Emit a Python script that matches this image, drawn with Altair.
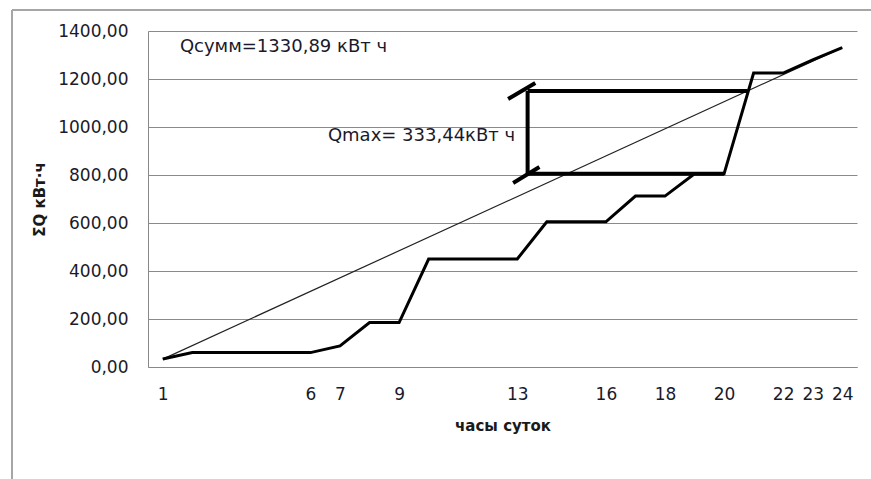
import altair as alt
import pandas as pd

# ---- data ----
hours = list(range(1, 25))
cum_q = [33, 60, 60, 60, 60, 60, 88, 185, 185, 450, 450, 450, 450,
         605, 605, 605, 712, 712, 805, 805, 1225, 1225, 1280, 1330.89]
avg_hours = [1, 24]
avg_q = [33, 1330.89]
tick_hours = [1, 6, 7, 9, 13, 16, 18, 20, 22, 23, 24]
y_ticks = [0, 200, 400, 600, 800, 1000, 1200, 1400]

# bracket (Qmax) segments: x1, y1, x2, y2
br_x1 = [13.35, 13.35, 13.35, 12.69, 12.86]
br_y1 = [1150, 805, 805, 1117, 767]
br_x2 = [20.8, 20.0, 13.35, 13.61, 13.75]
br_y2 = [1150, 805, 1150, 1183, 833]

notes = ["Qсумм=1330,89 кВт ч", "Qmax= 333,44кВт ч"]
note_x = [1.58, 6.59]
note_y = [1333, 962]

FONT = "DejaVu Sans"
W, H = 709, 336
PAD_L, PAD_T = 148, 31

df = pd.DataFrame({"h": hours, "q": cum_q})
df_avg = pd.DataFrame({"h": avg_hours, "q": avg_q})
df_br = pd.DataFrame({"x1": br_x1, "y1": br_y1, "x2": br_x2, "y2": br_y2})
df_notes = pd.DataFrame({"t": notes, "x": note_x, "y": note_y})

xs = alt.Scale(domain=[0.5, 24.5], nice=False, zero=False)
ys = alt.Scale(domain=[0, 1400], nice=False)

x_axis = alt.Axis(values=tick_hours, title="часы суток", grid=False, ticks=False,
                  domain=True, domainColor="#888888", labelFont=FONT, labelFontSize=17,
                  labelColor="#1a1a2a", labelPadding=19, titleFont=FONT, titleFontSize=15,
                  titleFontWeight="bold", titleColor="#1a1a1a", titlePadding=16)
y_axis = alt.Axis(values=y_ticks, title="ΣQ кВт·ч", grid=True, gridColor="#8a8a8a",
                  ticks=False, domain=True, domainColor="#888888", labelFont=FONT,
                  labelFontSize=17, labelColor="#1a1a2a", labelPadding=20,
                  labelExpr="replace(format(datum.value, '.2f'), '.', ',')",
                  titleFont=FONT, titleFontSize=15, titleFontWeight="bold",
                  titleColor="#1a1a1a", titlePadding=10)

base_line = alt.Chart(df).mark_line(color="black", strokeWidth=3, strokeJoin="miter").encode(
    x=alt.X("h:Q", scale=xs, axis=x_axis),
    y=alt.Y("q:Q", scale=ys, axis=y_axis),
)

avg_line = alt.Chart(df_avg).mark_line(color="#222222", strokeWidth=1.2).encode(
    x=alt.X("h:Q", scale=xs), y=alt.Y("q:Q", scale=ys))

bracket = alt.Chart(df_br).mark_rule(color="black", strokeWidth=4).encode(
    x=alt.X("x1:Q", scale=xs), y=alt.Y("y1:Q", scale=ys),
    x2="x2:Q", y2="y2:Q")

texts = alt.Chart(df_notes).mark_text(font=FONT, fontSize=18, align="left",
                                      baseline="middle", color="#1a1a2a").encode(
    x=alt.X("x:Q", scale=xs), y=alt.Y("y:Q", scale=ys), text="t:N")

# outer chart frame (left and top edges visible in reference)
frame_left = alt.Chart(df_avg).mark_rule(color="#a6a6a6", strokeWidth=2).encode(
    x=alt.value(12 - PAD_L), y=alt.value(10 - PAD_T), y2=alt.value(479 - PAD_T + 10))
frame_top = alt.Chart(df_avg).mark_rule(color="#a6a6a6", strokeWidth=2).encode(
    y=alt.value(10 - PAD_T), x=alt.value(12 - PAD_L), x2=alt.value(871 - PAD_L + 10))

chart = alt.layer(frame_left, frame_top, avg_line, base_line, bracket, texts).properties(
    width=W, height=H,
    autosize=alt.AutoSizeParams(type="none"),
    padding={"left": PAD_L, "top": PAD_T, "right": 871 - PAD_L - W, "bottom": 479 - PAD_T - H},
    background="white",
).configure_view(stroke=None)

chart.save("out.html", embed_options={"renderer": "svg", "actions": False})
